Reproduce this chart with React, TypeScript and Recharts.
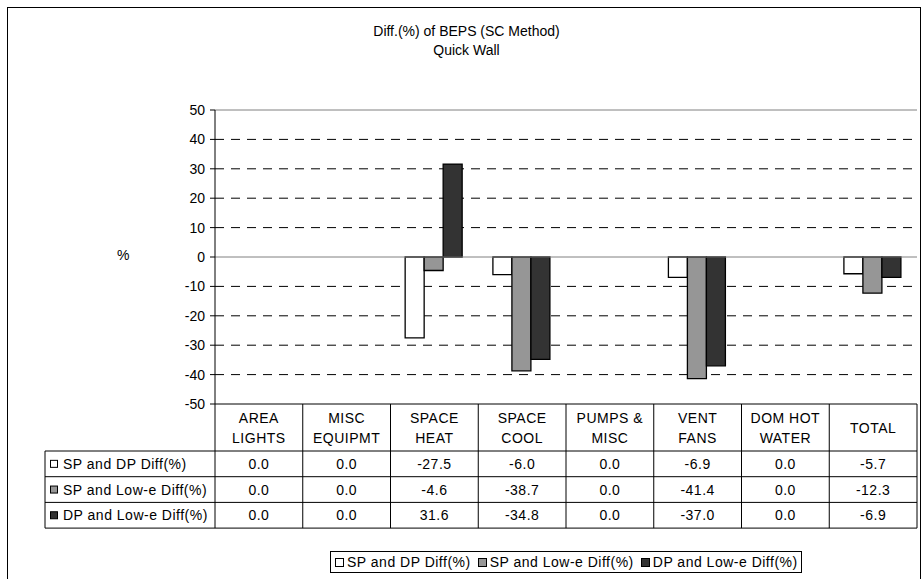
import React from "react";
import {
  BarChart,
  Bar,
  XAxis,
  YAxis,
  CartesianGrid,
  ReferenceLine,
} from "recharts";

const CATEGORIES: string[][] = [
  ["AREA", "LIGHTS"],
  ["MISC", "EQUIPMT"],
  ["SPACE", "HEAT"],
  ["SPACE", "COOL"],
  ["PUMPS &", "MISC"],
  ["VENT", "FANS"],
  ["DOM HOT", "WATER"],
  ["TOTAL"],
];

const SP_DP = [0.0, 0.0, -27.5, -6.0, 0.0, -6.9, 0.0, -5.7];
const SP_LOWE = [0.0, 0.0, -4.6, -38.7, 0.0, -41.4, 0.0, -12.3];
const DP_LOWE = [0.0, 0.0, 31.6, -34.8, 0.0, -37.0, 0.0, -6.9];

const SERIES_NAMES = [
  "SP and DP Diff(%)",
  "SP and Low-e Diff(%)",
  "DP and Low-e Diff(%)",
];
const SERIES_COLORS = ["#ffffff", "#969696", "#333333"];

const Y_TICKS = [50, 40, 30, 20, 10, 0, -10, -20, -30, -40, -50];
const GRID_VALUES = [40, 30, 20, 10, -10, -20, -30, -40];

const FONT = '"Liberation Sans", Arial, sans-serif';

// layout
const W = 923;
const H = 579;
const PLOT_LEFT = 215;
const PLOT_RIGHT = 917;
const PLOT_TOP = 110;
const PLOT_BOTTOM = 404;
const ROW_LEFT = 45;
const HEADER_BOTTOM = 451;
const ROW_H = 25.7;

const SERIES_VALUES = [SP_DP, SP_LOWE, DP_LOWE];

const data = CATEGORIES.map((c, i) => ({
  name: c.join(" "),
  s0: SP_DP[i],
  s1: SP_LOWE[i],
  s2: DP_LOWE[i],
}));

function DataTable() {
  const colW = (PLOT_RIGHT - PLOT_LEFT) / CATEGORIES.length;
  const tableBottom = HEADER_BOTTOM + ROW_H * SERIES_NAMES.length;
  const textStyle = { fontFamily: FONT, fontSize: 14, letterSpacing: 0.5 };
  return (
    <svg
      width={W}
      height={H}
      style={{ position: "absolute", left: 0, top: 0, pointerEvents: "none" }}
    >
      {/* column lines */}
      {CATEGORIES.map((_, i) => (
        <line
          key={"v" + i}
          x1={PLOT_LEFT + i * colW}
          x2={PLOT_LEFT + i * colW}
          y1={PLOT_BOTTOM}
          y2={tableBottom}
          stroke="#000"
        />
      ))}
      <line x1={PLOT_RIGHT} x2={PLOT_RIGHT} y1={PLOT_BOTTOM} y2={tableBottom} stroke="#000" />
      <line x1={ROW_LEFT} x2={ROW_LEFT} y1={HEADER_BOTTOM} y2={tableBottom} stroke="#000" />
      {/* row lines */}
      {[0, 1, 2, 3].map((r) => (
        <line
          key={"h" + r}
          x1={ROW_LEFT}
          x2={PLOT_RIGHT}
          y1={HEADER_BOTTOM + r * ROW_H}
          y2={HEADER_BOTTOM + r * ROW_H}
          stroke="#000"
        />
      ))}
      {/* header labels */}
      {CATEGORIES.map((lines, i) => {
        const cx = PLOT_LEFT + (i + 0.5) * colW;
        const mid = (PLOT_BOTTOM + HEADER_BOTTOM) / 2;
        return lines.map((t, j) => (
          <text
            key={`c${i}-${j}`}
            x={cx}
            y={mid + (j - (lines.length - 1) / 2) * 20}
            textAnchor="middle"
            dominantBaseline="central"
            style={textStyle}
          >
            {t}
          </text>
        ));
      })}
      {/* rows */}
      {SERIES_NAMES.map((name, r) => {
        const cy = HEADER_BOTTOM + (r + 0.5) * ROW_H;
        return (
          <g key={name}>
            <rect
              x={50.5}
              y={cy - 3.5}
              width={7}
              height={7}
              fill={SERIES_COLORS[r]}
              stroke="#000"
            />
            <text x={63} y={cy} dominantBaseline="central" style={textStyle}>
              {name}
            </text>
            {SERIES_VALUES[r].map((v, i) => (
              <text
                key={i}
                x={PLOT_LEFT + (i + 0.5) * colW}
                y={cy}
                textAnchor="middle"
                dominantBaseline="central"
                style={textStyle}
              >
                {v.toFixed(1)}
              </text>
            ))}
          </g>
        );
      })}
    </svg>
  );
}

function LegendBox() {
  return (
    <div
      style={{
        position: "absolute",
        left: 330,
        top: 551,
        width: 472,
        height: 22,
        border: "1px solid #000",
        boxSizing: "border-box",
        display: "flex",
        alignItems: "center",
        gap: 7,
        paddingLeft: 4,
        fontFamily: FONT,
        fontSize: 14,
        letterSpacing: 0.5,
        whiteSpace: "nowrap",
        background: "#fff",
      }}
    >
      {SERIES_NAMES.map((name, i) => (
        <div key={name} style={{ display: "flex", alignItems: "center", gap: 3, flexShrink: 0 }}>
          <span
            style={{
              width: 7,
              height: 7,
              border: "1px solid #000",
              background: SERIES_COLORS[i],
              display: "inline-block",
            }}
          />
          <span>{name}</span>
        </div>
      ))}
    </div>
  );
}

export default function App() {
  return (
    <div
      style={{
        position: "relative",
        width: W,
        height: H,
        overflow: "hidden",
        background: "#fff",
        fontFamily: FONT,
      }}
    >
      <style>{"body{margin:0}"}</style>
      <div
        style={{
          position: "absolute",
          left: 7,
          top: 7,
          width: 914,
          height: 620,
          border: "1px solid #000",
          boxSizing: "border-box",
        }}
      />
      <div
        style={{
          position: "absolute",
          left: 0,
          width: W,
          top: 22,
          textAlign: "center",
          fontSize: 14,
          lineHeight: "18.5px",
          paddingLeft: 10,
          boxSizing: "border-box",
        }}
      >
        <div>Diff.(%) of BEPS (SC Method)</div>
        <div>Quick Wall</div>
      </div>
      <div style={{ position: "absolute", left: 117, top: 247, fontSize: 14 }}>%</div>
      <div style={{ position: "absolute", left: 0, top: 0 }}>
        <BarChart
          width={W}
          height={H}
          data={data}
          margin={{ top: PLOT_TOP, right: W - PLOT_RIGHT, bottom: H - PLOT_BOTTOM, left: PLOT_LEFT - 60 }}
          barCategoryGap="16.7%"
          barGap={0}
        >
          <CartesianGrid
            vertical={false}
            horizontalValues={GRID_VALUES}
            stroke="#000"
            strokeDasharray="9 7"
          />
          <XAxis dataKey="name" hide />
          <YAxis
            domain={[-50, 50]}
            ticks={Y_TICKS}
            interval={0}
            width={60}
            tickSize={5}
            tickMargin={5}
            axisLine={{ stroke: "#000" }}
            tickLine={{ stroke: "#000" }}
            tick={{ fill: "#000", fontSize: 14, fontFamily: FONT }}
          />
          <YAxis
            yAxisId="right"
            orientation="right"
            domain={[-50, 50]}
            width={0}
            tick={false}
            tickLine={false}
            axisLine={{ stroke: "#808080" }}
          />
          <ReferenceLine y={50} stroke="#808080" />
          <ReferenceLine y={0} stroke="#808080" />
          <ReferenceLine y={-50} stroke="#000" />
          {SERIES_NAMES.map((name, i) => (
            <Bar
              key={name}
              dataKey={"s" + i}
              name={name}
              fill={SERIES_COLORS[i]}
              stroke="#000"
              strokeWidth={1.3}
              isAnimationActive={false}
            />
          ))}
        </BarChart>
      </div>
      <DataTable />
      <LegendBox />
    </div>
  );
}
